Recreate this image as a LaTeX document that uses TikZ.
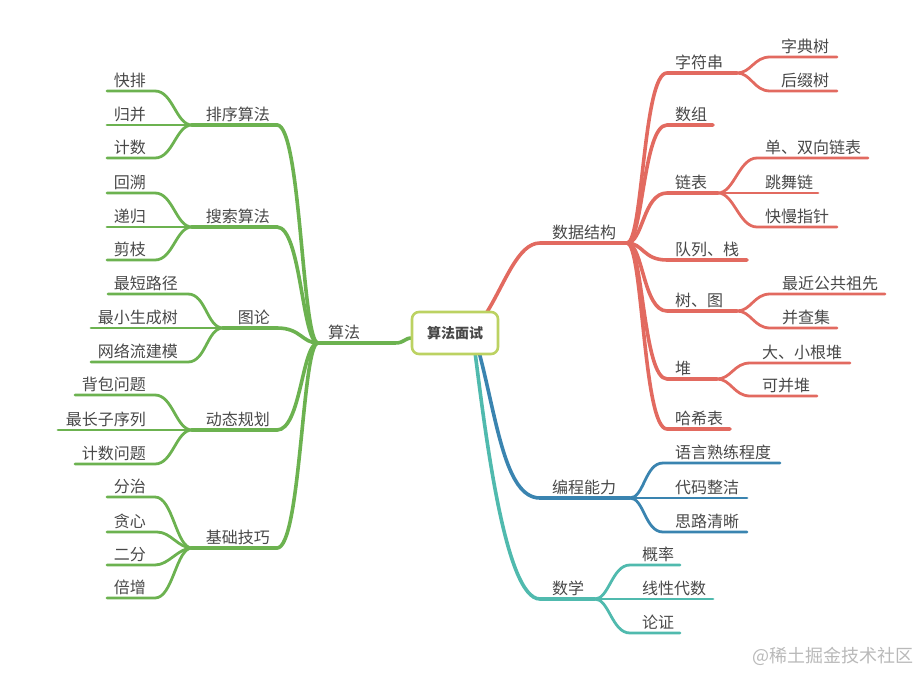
\documentclass[tikz,border=0pt]{standalone}
\usepackage{fontspec}
\setmainfont{Noto Sans CJK SC}
\usetikzlibrary{calc}
\definecolor{grn}{RGB}{108,178,80}
\definecolor{rd}{RGB}{226,106,96}
\definecolor{blu}{RGB}{58,132,176}
\definecolor{tea}{RGB}{80,186,174}
\definecolor{lime}{RGB}{188,210,98}
\definecolor{txt}{RGB}{72,72,72}
\definecolor{wm}{RGB}{185,185,185}
\tikzset{
  lab/.style={font=\fontsize{16}{16}\selectfont, text=txt, inner sep=0pt},
  labL/.style={lab, anchor=base east},
  labR/.style={lab, anchor=base west},
  trunk/.style={line width=3.6pt, line cap=round},
  twig/.style={line width=2.8pt, line cap=round},
  centre/.style={draw=lime, line width=2.6pt, rounded corners=7pt, fill=white,
    minimum width=86pt, minimum height=42pt, text=txt,
    font=\bfseries\fontsize{14}{14}\selectfont},
}
\begin{document}
\begin{tikzpicture}[x=1pt,y=-1pt]
\useasboundingbox (0,0) rectangle (918,672);

% ---------------- LEFT: 算法 (green) ----------------
\coordinate (A) at (318,343);
\coordinate (A1) at (395,343);
\coordinate (Cw) at (412,338);
\node[labR] (alg) at (328,338) {算法};

\coordinate (S1) at (277,125); \coordinate (F1) at (192,125);
\coordinate (S2) at (277,227); \coordinate (F2) at (192,227);
\coordinate (S3) at (277,328); \coordinate (F3) at (223,328);
\coordinate (S4) at (277,430); \coordinate (F4) at (192,430);
\coordinate (S5) at (277,548); \coordinate (F5) at (192,548);
\node[labL] (px) at (270,120) {排序算法};
\node[labL] (ss) at (270,222) {搜索算法};
\node[labL] (tl) at (270,323) {图论};
\node[labL] (dt) at (270,425) {动态规划};
\node[labL] (jc) at (270,543) {基础技巧};

\begin{scope}[draw=grn]
\foreach \s in {S1,S2,S3,S4,S5}
  \draw[trunk] (A) .. controls +(-16,0) and +(24,0) .. (\s);
\draw[trunk] (S1) -- (F1);
\draw[trunk] (S2) -- (F2);
\draw[trunk] (S3) -- (F3);
\draw[trunk] (S4) -- (F4);
\draw[trunk] (S5) -- (F5);
\end{scope}

% leaves group 1
\coordinate (l1a) at (107,91);  \coordinate (r1a) at (155,91);
\coordinate (l1b) at (107,125);
\coordinate (l1c) at (107,158); \coordinate (r1c) at (155,158);
\node[labL] (kp) at (146,86) {快排};
\node[labL] (gb) at (146,120) {归并};
\node[labL] (js) at (146,153) {计数};
% group 2
\coordinate (l2a) at (107,193); \coordinate (r2a) at (155,193);
\coordinate (l2b) at (107,227);
\coordinate (l2c) at (107,260); \coordinate (r2c) at (155,260);
\node[labL] (hs) at (146,188) {回溯};
\node[labL] (dg) at (146,222) {递归};
\node[labL] (jz) at (146,255) {剪枝};
% group 3
\coordinate (l3a) at (108,294); \coordinate (r3a) at (188,294);
\coordinate (l3b) at (91,328);
\coordinate (l3c) at (91,362); \coordinate (r3c) at (188,362);
\node[labL] (zd) at (178,289) {最短路径};
\node[labL] (zx) at (178,323) {最小生成树};
\node[labL] (wl) at (178,357) {网络流建模};
% group 4
\coordinate (l4a) at (75,395); \coordinate (r4a) at (155,395);
\coordinate (l4b) at (58,430);
\coordinate (l4c) at (75,464); \coordinate (r4c) at (155,464);
\node[labL] (bb) at (146,390) {背包问题};
\node[labL] (zc) at (146,425) {最长子序列};
\node[labL] (jw) at (146,459) {计数问题};
% group 5
\coordinate (l5a) at (107,497); \coordinate (r5a) at (155,497);
\coordinate (l5b) at (107,532); \coordinate (r5b) at (157,532);
\coordinate (l5c) at (107,565); \coordinate (r5c) at (155,565);
\coordinate (l5d) at (107,598); \coordinate (r5d) at (155,598);
\node[labL] (fz) at (146,492) {分治};
\node[labL] (tx) at (146,527) {贪心};
\node[labL] (ef) at (146,560) {二分};
\node[labL] (bz) at (146,593) {倍增};

\begin{scope}[draw=grn]
\draw[twig] (l1a) -- (r1a) .. controls +(18,0) and +(-16,0) .. (F1);
\draw[twig] (l1b) -- (F1);
\draw[twig] (l1c) -- (r1c) .. controls +(18,0) and +(-16,0) .. (F1);
\draw[twig] (l2a) -- (r2a) .. controls +(18,0) and +(-16,0) .. (F2);
\draw[twig] (l2b) -- (F2);
\draw[twig] (l2c) -- (r2c) .. controls +(18,0) and +(-16,0) .. (F2);
\draw[twig] (l3a) -- (r3a) .. controls +(18,0) and +(-16,0) .. (F3);
\draw[twig] (l3b) -- (F3);
\draw[twig] (l3c) -- (r3c) .. controls +(18,0) and +(-16,0) .. (F3);
\draw[twig] (l4a) -- (r4a) .. controls +(18,0) and +(-16,0) .. (F4);
\draw[twig] (l4b) -- (F4);
\draw[twig] (l4c) -- (r4c) .. controls +(18,0) and +(-16,0) .. (F4);
\draw[twig] (l5a) -- (r5a) .. controls +(18,0) and +(-16,0) .. (F5);
\draw[twig] (l5b) -- (r5b) .. controls +(14,0) and +(-14,0) .. (F5);
\draw[twig] (l5c) -- (r5c) .. controls +(14,0) and +(-14,0) .. (F5);
\draw[twig] (l5d) -- (r5d) .. controls +(18,0) and +(-16,0) .. (F5);
\end{scope}

% ---------------- RIGHT: 数据结构 (red) ----------------
\coordinate (Ct) at (487,312);
\coordinate (D0) at (540,243);
\coordinate (D) at (627,243);
\node[labR] (sj) at (552,238) {数据结构};

\coordinate (s1) at (667,73);  \coordinate (e1) at (737,73);
\coordinate (s2) at (667,125); \coordinate (e2) at (713,125);
\coordinate (s3) at (667,193); \coordinate (e3) at (718,193);
\coordinate (s4) at (667,260); \coordinate (e4) at (747,260);
\coordinate (s5) at (667,311); \coordinate (e5) at (737,311);
\coordinate (s6) at (667,379); \coordinate (e6) at (717,379);
\coordinate (s7) at (667,429); \coordinate (e7) at (730,429);
\node[labR] (zfc) at (675,68) {字符串};
\node[labR] (sz) at (675,120) {数组};
\node[labR] (lb) at (675,188) {链表};
\node[labR] (dl) at (675,255) {队列、栈};
\node[labR] (st) at (675,306) {树、图};
\node[labR] (dui) at (675,374) {堆};
\node[labR] (hx) at (675,424) {哈希表};

% grandchildren
\coordinate (g1a) at (770,57);  \coordinate (h1a) at (837,57);
\coordinate (g1b) at (770,91);  \coordinate (h1b) at (837,91);
\coordinate (g3a) at (757,158); \coordinate (h3a) at (868,158);
\coordinate (h3b) at (818,193);
\coordinate (g3c) at (757,227); \coordinate (h3c) at (837,227);
\coordinate (g5a) at (770,294); \coordinate (h5a) at (885,294);
\coordinate (g5b) at (770,328); \coordinate (h5b) at (837,328);
\coordinate (g6a) at (750,363); \coordinate (h6a) at (850,363);
\coordinate (g6b) at (750,396); \coordinate (h6b) at (817,396);
\node[labR] (zds) at (781,52) {字典树};
\node[labR] (hzs) at (781,86) {后缀树};
\node[labR] (dsx) at (765,153) {单、双向链表};
\node[labR] (twl) at (765,188) {跳舞链};
\node[labR] (kmz) at (765,222) {快慢指针};
\node[labR] (zj) at (782,289) {最近公共祖先};
\node[labR] (bcj) at (782,323) {并查集};
\node[labR] (dxg) at (762,358) {大、小根堆};
\node[labR] (kbd) at (762,391) {可并堆};

\begin{scope}[draw=rd]
\draw[trunk] (Ct) .. controls (505,283) and (518,243) .. (D0) -- (D);
\foreach \a/\b in {s1/e1,s2/e2,s3/e3,s4/e4,s5/e5,s6/e6,s7/e7}
  \draw[trunk] (D) .. controls +(16,0) and +(-24,0) .. (\a) -- (\b);
\draw[twig] (e1) .. controls +(14,0) and +(-16,0) .. (g1a) -- (h1a);
\draw[twig] (e1) .. controls +(14,0) and +(-16,0) .. (g1b) -- (h1b);
\draw[twig] (e3) .. controls +(16,0) and +(-18,0) .. (g3a) -- (h3a);
\draw[twig] (e3) -- (h3b);
\draw[twig] (e3) .. controls +(16,0) and +(-18,0) .. (g3c) -- (h3c);
\draw[twig] (e5) .. controls +(14,0) and +(-16,0) .. (g5a) -- (h5a);
\draw[twig] (e5) .. controls +(14,0) and +(-16,0) .. (g5b) -- (h5b);
\draw[twig] (e6) .. controls +(14,0) and +(-16,0) .. (g6a) -- (h6a);
\draw[twig] (e6) .. controls +(14,0) and +(-16,0) .. (g6b) -- (h6b);
\end{scope}

% ---------------- RIGHT: 编程能力 (blue) ----------------
\coordinate (Cb) at (479,352);
\coordinate (B0) at (540,498);
\coordinate (B) at (630,498);
\node[labR] (bc) at (552,493) {编程能力};
\coordinate (b1) at (663,463); \coordinate (c1) at (780,463);
\coordinate (c2) at (747,498);
\coordinate (b3) at (663,532); \coordinate (c3) at (747,532);
\node[labR] (yy) at (675,458) {语言熟练程度};
\node[labR] (dm) at (675,493) {代码整洁};
\node[labR] (sl) at (675,527) {思路清晰};
\begin{scope}[draw=blu]
\draw[trunk] (Cb) .. controls (497,420) and (505,498) .. (B0) -- (B);
\draw[twig] (B) .. controls +(14,0) and +(-18,0) .. (b1) -- (c1);
\draw[twig] (B) -- (c2);
\draw[twig] (B) .. controls +(14,0) and +(-18,0) .. (b3) -- (c3);
\end{scope}

% ---------------- RIGHT: 数学 (teal) ----------------
\coordinate (Cs) at (475,352);
\coordinate (M0) at (540,599);
\coordinate (M) at (595,599);
\node[labR] (sx) at (552,594) {数学};
\coordinate (m1) at (630,565); \coordinate (n1) at (680,565);
\coordinate (n2) at (713,599);
\coordinate (m3) at (630,633); \coordinate (n3) at (680,633);
\node[labR] (gl) at (642,560) {概率};
\node[labR] (xx) at (642,594) {线性代数};
\node[labR] (lz) at (642,628) {论证};
\begin{scope}[draw=tea]
\draw[trunk] (Cs) .. controls (485,430) and (505,599) .. (M0) -- (M);
\draw[twig] (M) .. controls +(14,0) and +(-18,0) .. (m1) -- (n1);
\draw[twig] (M) -- (n2);
\draw[twig] (M) .. controls +(14,0) and +(-18,0) .. (m3) -- (n3);
\end{scope}

% left trunk to centre
\draw[grn, trunk] (A) -- (A1) .. controls +(10,0) and +(-8,0) .. (Cw);

% centre node
\node[centre] (C) at (455,333) {算法面试};

% watermark
\node[anchor=base west, inner sep=0pt, text=wm, font=\fontsize{18}{18}\selectfont] (wmk) at (752,662) {@稀土掘金技术社区};
\end{tikzpicture}
\end{document}
